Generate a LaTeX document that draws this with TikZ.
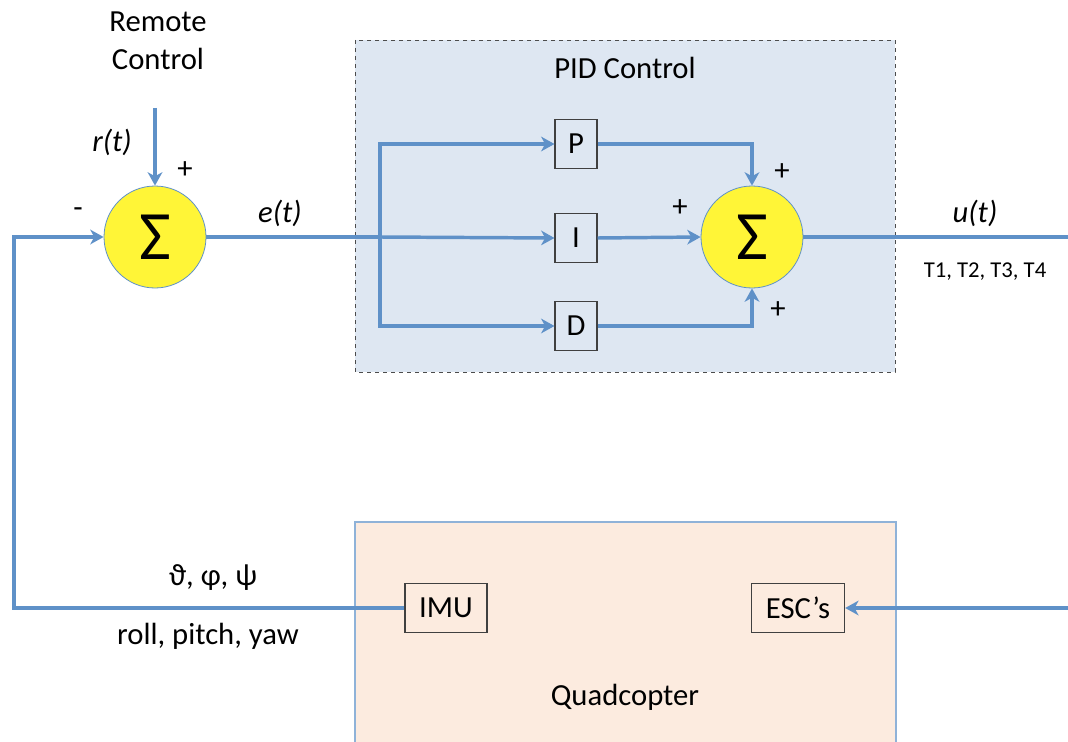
\documentclass[tikz,border=0pt]{standalone}
\usepackage{fontspec}
\setmainfont{Carlito}
\usetikzlibrary{arrows.meta,positioning,calc}
\definecolor{ctlblue}{RGB}{95,145,200}
\definecolor{pidfill}{RGB}{222,231,242}
\definecolor{quadfill}{RGB}{252,235,223}
\definecolor{sumyellow}{RGB}{255,245,55}
\begin{document}
\begin{tikzpicture}[x=0.75pt,y=-0.75pt,
  lbl/.style={font=\fontsize{23}{28.5}\selectfont,inner sep=0pt},
  blk/.style={draw=black!75,line width=0.8pt,font=\fontsize{23}{28}\selectfont,inner sep=0pt,minimum height=37pt},
  sumnode/.style={circle,fill=sumyellow,draw=ctlblue,line width=0.6pt,minimum size=76.5pt,inner sep=0pt,font=\fontsize{52}{52}\selectfont},
  wire/.style={ctlblue,line width=2.6pt},
  arr/.style={wire,-{Stealth[length=10pt,width=11pt,inset=3pt]}}]
  \useasboundingbox (0,0) rectangle (1068,742);
  % PID controller frame
  \draw[black!70,dashed,line width=0.7pt,fill=pidfill] (355,40) rectangle (895,372);
  \node[lbl] (pidtitle) at (625,68) {PID Control};
  % Quadcopter frame
  \draw[ctlblue!70,line width=0.8pt,fill=quadfill] (355,522) rectangle (896,746);
  \node[lbl] (quadtitle) at (625,697) {Quadcopter};
  % Summing junctions
  \node[sumnode] (sum1) at (155,237) {Σ};
  \node[sumnode] (sum2) at (752,237) {Σ};
  % P, I, D blocks
  \node[blk,minimum width=31.5pt] (P) at (576,144) {P};
  \node[blk,minimum width=31.5pt] (I) at (576,238) {I};
  \node[blk,minimum width=31.5pt] (D) at (576,326) {D};
  % Plant blocks
  \node[blk,minimum width=61.5pt] (imu) at (446,608) {IMU};
  \node[blk,minimum width=70pt] (esc) at (798,608) {ESC’s};
  % Free ends
  \coordinate (rin) at (155,108);
  \coordinate (split) at (380,237);
  \coordinate (uout) at (1068,237);
  \coordinate (escin) at (1068,608);
  \coordinate (fbcorner) at (14,608);
  % Connectors
  \draw[arr] (rin) -- (sum1.north);
  \draw[wire] (sum1.east) -- (split);
  \draw[arr] (split) -- (I.west);
  \draw[arr] (split) |- (P.west);
  \draw[arr] (split) |- (D.west);
  \draw[arr] (P.east) -| (sum2.north);
  \draw[arr] (I.east) -- (sum2.west);
  \draw[arr] (D.east) -| (sum2.south);
  \draw[wire] (sum2.east) -- (uout);
  \draw[arr] (escin) -- (esc.east);
  \draw[arr] (imu.west) -- (fbcorner) |- (sum1.west);
  % Signal labels
  \node[lbl,align=center] (remote) at (158,41) {Remote\\Control};
  \node[lbl,font=\fontsize{23}{28}\selectfont\itshape] (rlbl) at (112,142) {r(t)};
  \node[lbl] (plus1) at (185,170) {+};
  \node[lbl] (minus1) at (78,213) {-};
  \node[lbl,font=\fontsize{23}{28}\selectfont\itshape] (elbl) at (280,213) {e(t)};
  \node[lbl] (plusp) at (782,172) {+};
  \node[lbl] (plusi) at (680,208) {+};
  \node[lbl] (plusd) at (778,310) {+};
  \node[lbl,font=\fontsize{23}{28}\selectfont\itshape] (ulbl) at (975,213) {u(t)};
  \node[lbl,font=\fontsize{17}{20}\selectfont] (thrust) at (985,272) {T1, T2, T3, T4};
  \node[lbl] (angles) at (213,578) {ϑ, φ, ψ};
  \node[lbl] (attitude) at (208,636) {roll, pitch, yaw};
\end{tikzpicture}
\end{document}
